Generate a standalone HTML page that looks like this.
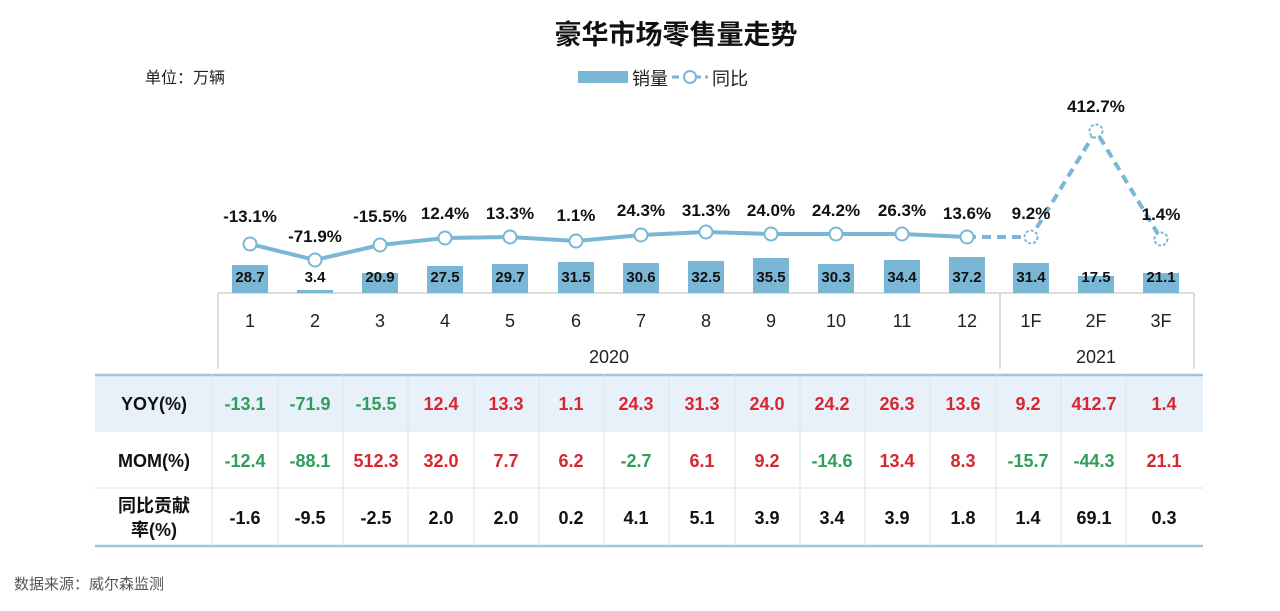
<!DOCTYPE html>
<html><head><meta charset="utf-8"><style>
body{margin:0;width:1280px;height:606px;background:#fff;overflow:hidden;font-family:"Liberation Sans","Noto Sans CJK SC",sans-serif}
</style></head><body>
<svg width="1280" height="606" xmlns="http://www.w3.org/2000/svg" font-family="Liberation Sans, Noto Sans CJK SC, sans-serif">
<text x="676" y="44" text-anchor="middle" font-size="27" font-weight="bold" fill="#111">豪华市场零售量走势</text>
<text x="145" y="83" font-size="16" fill="#222">单位：万辆</text>
<rect x="578" y="71" width="50" height="12" fill="#7ab6d6"/>
<text x="632" y="85" font-size="18" fill="#222">销量</text>
<line x1="672" y1="77" x2="708" y2="77" stroke="#7ab6d6" stroke-width="3" stroke-dasharray="7,4"/>
<circle cx="690" cy="77" r="6" fill="#fff" stroke="#7ab6d6" stroke-width="2"/>
<text x="712" y="85" font-size="18" fill="#222">同比</text>
<!-- axis box -->
<g stroke="#d0d0d0" stroke-width="1.5" fill="none">
<line x1="218" y1="293" x2="218" y2="369"/>
<line x1="1000" y1="293" x2="1000" y2="369"/>
<line x1="1194" y1="293" x2="1194" y2="369"/>
<line x1="218" y1="293" x2="1194" y2="293"/>
</g>
<g fill="#7ab6d6">
<rect x="232" y="265" width="36" height="28"/>
<rect x="297" y="290" width="36" height="3"/>
<rect x="362" y="273" width="36" height="20"/>
<rect x="427" y="266" width="36" height="27"/>
<rect x="492" y="264" width="36" height="29"/>
<rect x="558" y="262" width="36" height="31"/>
<rect x="623" y="263" width="36" height="30"/>
<rect x="688" y="261" width="36" height="32"/>
<rect x="753" y="258" width="36" height="35"/>
<rect x="818" y="264" width="36" height="29"/>
<rect x="884" y="260" width="36" height="33"/>
<rect x="949" y="257" width="36" height="36"/>
<rect x="1013" y="263" width="36" height="30"/>
<rect x="1078" y="276" width="36" height="17"/>
<rect x="1143" y="273" width="36" height="20"/>
</g>
<g font-size="15" font-weight="bold" fill="#111" text-anchor="middle">
<text x="250" y="282">28.7</text><text x="315" y="282">3.4</text><text x="380" y="282">20.9</text><text x="445" y="282">27.5</text><text x="510" y="282">29.7</text><text x="576" y="282">31.5</text><text x="641" y="282">30.6</text><text x="706" y="282">32.5</text><text x="771" y="282">35.5</text><text x="836" y="282">30.3</text><text x="902" y="282">34.4</text><text x="967" y="282">37.2</text><text x="1031" y="282">31.4</text><text x="1096" y="282">17.5</text><text x="1161" y="282">21.1</text>
</g>
<g font-size="18" fill="#222" text-anchor="middle">
<text x="250" y="327">1</text><text x="315" y="327">2</text><text x="380" y="327">3</text><text x="445" y="327">4</text><text x="510" y="327">5</text><text x="576" y="327">6</text><text x="641" y="327">7</text><text x="706" y="327">8</text><text x="771" y="327">9</text><text x="836" y="327">10</text><text x="902" y="327">11</text><text x="967" y="327">12</text><text x="1031" y="327">1F</text><text x="1096" y="327">2F</text><text x="1161" y="327">3F</text>
<text x="609" y="363">2020</text><text x="1096" y="363">2021</text>
</g>
<polyline points="250,244 315,260 380,245 445,238 510,237 576,241 641,235 706,232 771,234 836,234 902,234 967,237" fill="none" stroke="#7ab6d6" stroke-width="4"/>
<polyline points="967,237 1031,237 1096,131 1161,239" fill="none" stroke="#7ab6d6" stroke-width="4" stroke-dasharray="9,6"/>
<g fill="#fff" stroke="#7ab6d6" stroke-width="2">
<circle cx="250" cy="244" r="6.5"/><circle cx="315" cy="260" r="6.5"/><circle cx="380" cy="245" r="6.5"/><circle cx="445" cy="238" r="6.5"/><circle cx="510" cy="237" r="6.5"/><circle cx="576" cy="241" r="6.5"/><circle cx="641" cy="235" r="6.5"/><circle cx="706" cy="232" r="6.5"/><circle cx="771" cy="234" r="6.5"/><circle cx="836" cy="234" r="6.5"/><circle cx="902" cy="234" r="6.5"/><circle cx="967" cy="237" r="6.5"/>
<circle cx="1031" cy="237" r="6.5" stroke-dasharray="3,2"/><circle cx="1096" cy="131" r="6.5" stroke-dasharray="3,2"/><circle cx="1161" cy="239" r="6.5" stroke-dasharray="3,2"/>
</g>
<g font-size="17" font-weight="bold" fill="#111" text-anchor="middle">
<text x="250" y="222">-13.1%</text><text x="315" y="242">-71.9%</text><text x="380" y="222">-15.5%</text><text x="445" y="219">12.4%</text><text x="510" y="219">13.3%</text><text x="576" y="221">1.1%</text><text x="641" y="216">24.3%</text><text x="706" y="216">31.3%</text><text x="771" y="216">24.0%</text><text x="836" y="216">24.2%</text><text x="902" y="216">26.3%</text><text x="967" y="219">13.6%</text><text x="1031" y="219">9.2%</text><text x="1096" y="112">412.7%</text><text x="1161" y="220">1.4%</text>
</g>
<!-- table -->
<rect x="95" y="375" width="1108" height="56" fill="#e8f1f9"/>
<g stroke="#9cc6e0" stroke-width="2.5"><line x1="95" y1="375" x2="1203" y2="375"/><line x1="95" y1="546" x2="1203" y2="546"/></g>
<g stroke="#d6e6f2" stroke-width="1">
<line x1="95" y1="431" x2="1203" y2="431"/><line x1="95" y1="488" x2="1203" y2="488"/>
<line x1="212" y1="375" x2="212" y2="546"/><line x1="278" y1="375" x2="278" y2="546"/><line x1="343" y1="375" x2="343" y2="546"/><line x1="408" y1="375" x2="408" y2="546"/><line x1="474" y1="375" x2="474" y2="546"/><line x1="539" y1="375" x2="539" y2="546"/><line x1="604" y1="375" x2="604" y2="546"/><line x1="669" y1="375" x2="669" y2="546"/><line x1="735" y1="375" x2="735" y2="546"/><line x1="800" y1="375" x2="800" y2="546"/><line x1="865" y1="375" x2="865" y2="546"/><line x1="930" y1="375" x2="930" y2="546"/><line x1="996" y1="375" x2="996" y2="546"/><line x1="1061" y1="375" x2="1061" y2="546"/><line x1="1126" y1="375" x2="1126" y2="546"/>
</g>
<g font-size="18" font-weight="bold" text-anchor="middle">
<text x="154" y="410" fill="#111">YOY(%)</text>
<text x="154" y="467" fill="#111">MOM(%)</text>
<text x="154" y="512" fill="#111">同比贡献</text>
<text x="154" y="536" fill="#111">率(%)</text>
<g fill="#2e9e5a"><text x="245" y="410">-13.1</text><text x="310" y="410">-71.9</text><text x="376" y="410">-15.5</text>
<text x="245" y="467">-12.4</text><text x="310" y="467">-88.1</text><text x="636" y="467">-2.7</text><text x="832" y="467">-14.6</text><text x="1028" y="467">-15.7</text><text x="1094" y="467">-44.3</text></g>
<g fill="#d9262e"><text x="441" y="410">12.4</text><text x="506" y="410">13.3</text><text x="571" y="410">1.1</text><text x="636" y="410">24.3</text><text x="702" y="410">31.3</text><text x="767" y="410">24.0</text><text x="832" y="410">24.2</text><text x="897" y="410">26.3</text><text x="963" y="410">13.6</text><text x="1028" y="410">9.2</text><text x="1094" y="410">412.7</text><text x="1164" y="410">1.4</text>
<text x="376" y="467">512.3</text><text x="441" y="467">32.0</text><text x="506" y="467">7.7</text><text x="571" y="467">6.2</text><text x="702" y="467">6.1</text><text x="767" y="467">9.2</text><text x="897" y="467">13.4</text><text x="963" y="467">8.3</text><text x="1164" y="467">21.1</text></g>
<g fill="#111"><text x="245" y="524">-1.6</text><text x="310" y="524">-9.5</text><text x="376" y="524">-2.5</text><text x="441" y="524">2.0</text><text x="506" y="524">2.0</text><text x="571" y="524">0.2</text><text x="636" y="524">4.1</text><text x="702" y="524">5.1</text><text x="767" y="524">3.9</text><text x="832" y="524">3.4</text><text x="897" y="524">3.9</text><text x="963" y="524">1.8</text><text x="1028" y="524">1.4</text><text x="1094" y="524">69.1</text><text x="1164" y="524">0.3</text></g>
</g>
<text x="14" y="589" font-size="15" fill="#555">数据来源：威尔森监测</text>
</svg>
</body></html>
